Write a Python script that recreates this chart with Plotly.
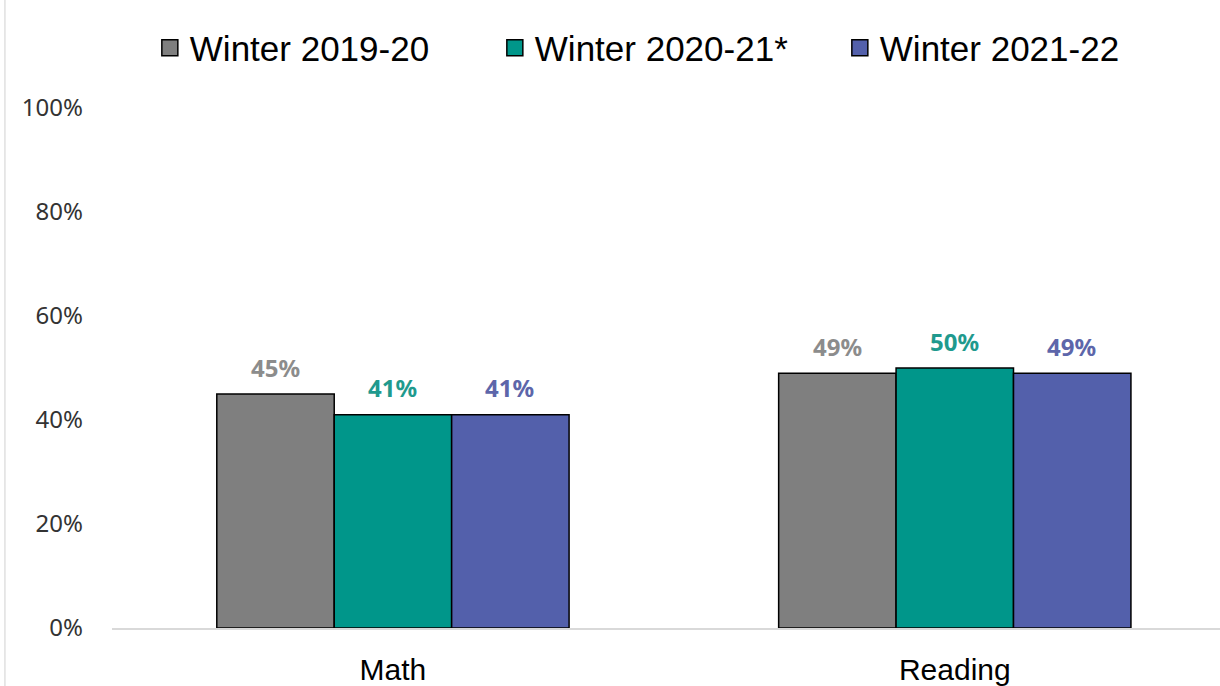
import plotly.graph_objects as go

categories = ["Math", "Reading"]
series_names = ["Winter 2019-20", "Winter 2020-21*", "Winter 2021-22"]
winter_2019_20 = [0.45, 0.49]
winter_2020_21 = [0.41, 0.50]
winter_2021_22 = [0.41, 0.49]
y_ticks = [0, 0.2, 0.4, 0.6, 0.8, 1.0]
y_tick_labels = ["0%", "20%", "40%", "60%", "80%", "100%"]

bar_colors = ["#7f7f7f", "#00968a", "#5360ab"]
label_colors = ["#8c8c8c", "#1f9a8e", "#5d66aa"]
shifts = [-117, 0, 117]

fig = go.Figure()
annots = []
for name, vals, col, lcol, sh in zip(series_names,
                                     [winter_2019_20, winter_2020_21, winter_2021_22],
                                     bar_colors, label_colors, shifts):
    fig.add_trace(go.Bar(
        x=categories, y=vals, name=name, showlegend=False,
        marker=dict(color=col, line=dict(color="black", width=1.5)),
    ))
    # legend entry with a bigger square
    fig.add_trace(go.Scatter(
        x=[None], y=[None], mode="markers", name=name,
        marker=dict(symbol="square", size=21, color=col, line=dict(color="black", width=1.5)),
    ))
    for c, v in zip(categories, vals):
        annots.append(dict(
            x=c, y=v, text=f"<b>{v:.0%}</b>", showarrow=False,
            xshift=sh, yshift=27, yanchor="middle",
            font=dict(color=lcol, size=24, family="Noto Sans"),
        ))

fig.update_layout(
    width=1220, height=686,
    margin=dict(l=112, r=0, t=108, b=58),
    paper_bgcolor="white", plot_bgcolor="white",
    barmode="group", bargap=0.373, bargroupgap=0,
    font=dict(family="Noto Sans", color="#222"),
    legend=dict(
        orientation="h", xref="container", x=0.547, xanchor="center",
        yref="container", y=0.93, yanchor="middle",
        font=dict(size=35, family="Liberation Sans", color="black"),
        itemwidth=30, tracegroupgap=0, entrywidth=300,
    ),
    annotations=annots,
)
fig.update_xaxes(
    range=[-0.5, 1.472], showgrid=False, showline=True, linecolor="#d9d9d9", linewidth=1.5,
    tickfont=dict(size=30, family="Liberation Sans", color="black"),
    ticks="", ticklabelstandoff=14, automargin=False,
)
fig.update_yaxes(
    range=[0, 1], tickvals=y_ticks, ticktext=y_tick_labels, showgrid=False,
    zeroline=False, showline=False, automargin=False,
    tickfont=dict(size=24, family="Noto Sans", color="#333"), ticklabelstandoff=28,
)
fig.add_shape(type="line", xref="paper", yref="paper", x0=-0.0966, x1=-0.0966, y0=-0.2, y1=1.3,
              line=dict(color="#d0d0d0", width=1))

fig.write_html("out.html", config={"displayModeBar": False},
               post_script="document.body.style.margin='0';document.body.style.overflow='hidden';")
